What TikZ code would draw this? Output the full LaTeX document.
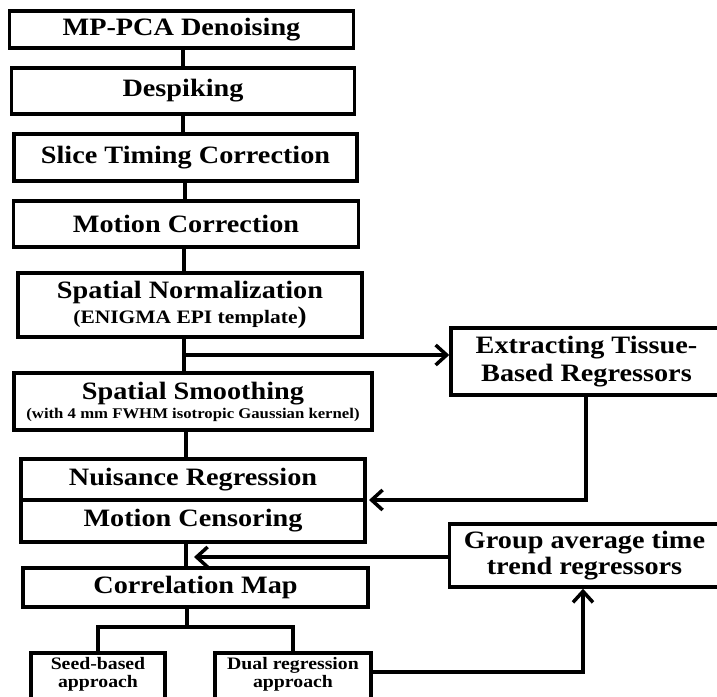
\documentclass[tikz,border=0pt]{standalone}
\usepackage{fontspec}
\setmainfont[FakeStretch=1.13]{Liberation Serif}
\usetikzlibrary{arrows.meta,calc}
\begin{document}
\begin{tikzpicture}[x=1pt,y=-1pt,
  box/.style={draw, line width=3.5pt, inner sep=0pt, align=center,
    font=\bfseries\fontsize{25}{28}\selectfont},
  con/.style={line width=3.5pt},
  arr/.style={con, -{Straight Barb[length=11pt,width=20pt,line width=3.5pt]}},
]
\clip (0,0) rectangle (717,696);
\fill[white] (0,0) rectangle (717,696);

\node[box, minimum width=344, minimum height=37] (b1) at (181.5,29.5) {MP-PCA Denoising};
\node[box, minimum width=343, minimum height=46] (b2) at (183,91) {Despiking};
\node[box, minimum width=343, minimum height=47] (b3) at (185.5,157.5) {Slice Timing Correction};
\node[box, minimum width=345, minimum height=46] (b4) at (186,224) {Motion Correction};
\node[box, minimum width=344, minimum height=64] (b5) at (190,305)
  {Spatial Normalization\\[-3pt]{\fontsize{19}{20}\selectfont (ENIGMA EPI template{\fontsize{24}{20}\selectfont)}}};
\node[box, minimum width=358, minimum height=57] (b6) at (193,401.5)
  {Spatial Smoothing\\[-9pt]{\fontsize{14.8}{16}\selectfont (with 4 mm FWHM isotropic Gaussian kernel)}};
\node[box, minimum width=344, minimum height=41, anchor=south, outer sep=0pt] (b7a) at (193,500) {Nuisance Regression};
\node[box, minimum width=344, minimum height=42, anchor=north, outer sep=0pt] (b7b) at (193,500) {Motion Censoring};
\node[box, minimum width=345, minimum height=39] (b8) at (195.5,587.5) {Correlation Map};
\node[box, minimum width=134, anchor=north, inner ysep=5pt, text depth=30pt,
  font=\bfseries\fontsize{17.5}{18}\selectfont] (b9) at (98,651) {Seed-based\\approach};
\node[box, minimum width=156, anchor=north, inner ysep=5pt, text depth=30pt,
  font=\bfseries\fontsize{17.5}{18}\selectfont] (b10) at (293,651) {Dual regression\\approach};
\node[box, minimum width=271, minimum height=67, font=\bfseries\fontsize{25}{28}\selectfont] (ex) at (586.5,361.5) {Extracting Tissue-\\Based Regressors};
\node[box, minimum width=270, minimum height=63, font=\bfseries\fontsize{25}{26}\selectfont] (gr) at (584.5,555.5) {Group average time\\trend regressors};

% main chain
\draw[con] (b1.south -| 183,0) -- (b2.north -| 183,0);
\draw[con] (b2.south -| 183,0) -- (b3.north -| 183,0);
\draw[con] (b3.south -| 185,0) -- (b4.north -| 185,0);
\draw[con] (b4.south -| 184,0) -- (b5.north -| 184,0);
\draw[con] (b5.south -| 184,0) -- (b6.north -| 184,0);
\draw[con] (b6.south -| 186,0) -- (b7a.north -| 186,0);
\draw[con] (b7b.south -| 186,0) -- (b8.north -| 186,0);
% branch to extracting
\coordinate (sp) at (184,355);
\draw[arr] (sp) -- (sp -| ex.west);
% back to nuisance
\draw[arr] (ex.south -| 586,0) |- ([xshift=4pt]b7a.south east);
% group average to chain
\coordinate (gt) at (194,557);
\draw[arr] (gr.west |- gt) -- (gt);
% correlation branching
\coordinate (br) at (187,627);
\draw[con] (b8.south -| br) -- (br);
\draw[con] (b9.north) -- (b9.north |- br) -- (b10.north |- br) -- (b10.north);
% dual to group
\draw[arr] (b10.east |- 0,672) -| (gr.south -| 583,0);
\end{tikzpicture}
\end{document}
